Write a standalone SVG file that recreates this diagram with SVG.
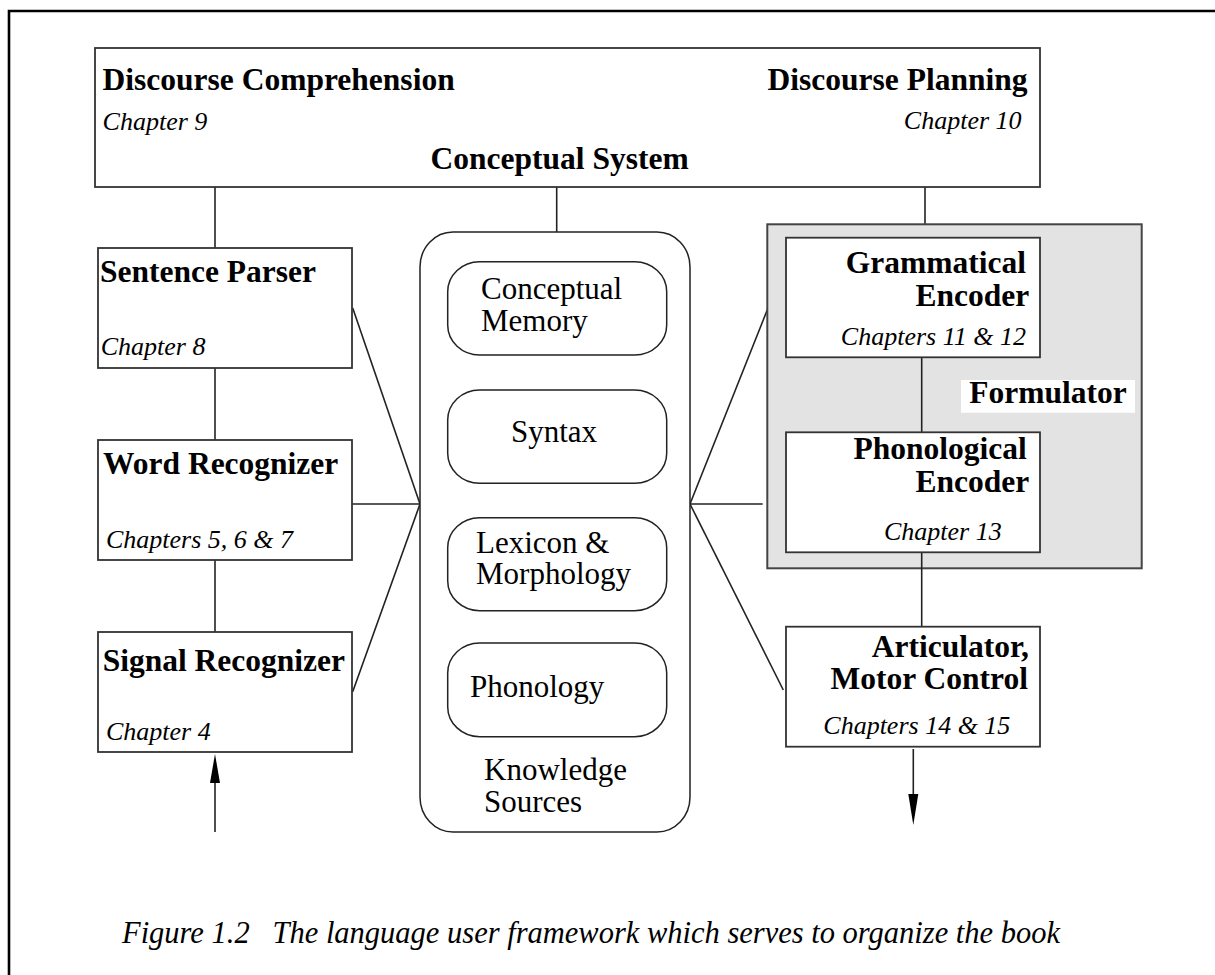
<svg xmlns="http://www.w3.org/2000/svg" width="1215" height="975" viewBox="0 0 1215 975">
<style>
.box{fill:#fff;stroke:#333;stroke-width:1.8}
.rr{fill:#fff;stroke:#222;stroke-width:1.5}
.ln{stroke:#222;stroke-width:1.6;fill:none}
.b{font-family:"Liberation Serif",serif;font-weight:bold;font-size:31.5px;fill:#000}
.i{font-family:"Liberation Serif",serif;font-style:italic;font-size:26px;fill:#000}
.r{font-family:"Liberation Serif",serif;font-size:31px;fill:#000}
.e{text-anchor:end}
</style>
<rect width="1215" height="975" fill="#fff"/>
<path d="M9,975 V11 H1215" fill="none" stroke="#000" stroke-width="2.6"/>

<g id="connectors">
<line class="ln" x1="215" y1="187" x2="215" y2="248"/>
<line class="ln" x1="556.7" y1="187" x2="556.7" y2="232"/>
<line class="ln" x1="925" y1="187" x2="925" y2="224"/>
<line class="ln" x1="215" y1="368" x2="215" y2="440"/>
<line class="ln" x1="215" y1="560" x2="215" y2="632"/>
<line class="ln" x1="352.7" y1="308" x2="420" y2="504"/>
<line class="ln" x1="350" y1="504" x2="420" y2="504"/>
<line class="ln" x1="352.7" y1="691.7" x2="420" y2="504"/>
<line class="ln" x1="690" y1="504" x2="768" y2="308"/>
<line class="ln" x1="690" y1="504" x2="762.7" y2="504"/>
<line class="ln" x1="690" y1="504" x2="783.3" y2="690"/>
<line class="ln" x1="215" y1="832" x2="215" y2="780"/>
<polygon points="215,754 210,783 220,783" fill="#000"/>
<line class="ln" x1="913.3" y1="749" x2="913.3" y2="798"/>
<polygon points="913.3,825 908.3,794 918.3,794" fill="#000"/>
</g>

<g id="conceptual-system">
<rect class="box" x="95" y="48" width="945" height="139"/>
<text class="b" x="102.6" y="90">Discourse Comprehension</text>
<text class="i" x="102.6" y="130">Chapter 9</text>
<text class="b e" x="1027.5" y="90">Discourse Planning</text>
<text class="i e" x="1021.6" y="129">Chapter 10</text>
<text class="b" x="430.5" y="169">Conceptual System</text>
</g>

<g id="sentence-parser">
<rect class="box" x="98" y="248" width="254" height="120"/>
<text class="b" x="100" y="282">Sentence Parser</text>
<text class="i" x="100.7" y="355">Chapter 8</text>
</g>

<g id="word-recognizer">
<rect class="box" x="98" y="440" width="254" height="120"/>
<text class="b" x="103" y="474">Word Recognizer</text>
<text class="i" x="106" y="548">Chapters 5, 6 &amp; 7</text>
</g>

<g id="signal-recognizer">
<rect class="box" x="98" y="632" width="254" height="120"/>
<text class="b" x="102.7" y="671">Signal Recognizer</text>
<text class="i" x="106" y="740">Chapter 4</text>
</g>

<g id="knowledge-sources">
<rect class="rr" x="420" y="232" width="270" height="600" rx="33" ry="35"/>
<text class="r" x="484" y="780">Knowledge<tspan x="484" dy="31.7">Sources</tspan></text>
</g>

<g id="conceptual-memory">
<rect class="rr" x="447.7" y="261.7" width="219" height="93.3" rx="32" ry="30"/>
<text class="r" x="481" y="299.3">Conceptual<tspan x="481" dy="31.8">Memory</tspan></text>
</g>

<g id="syntax">
<rect class="rr" x="447.7" y="390" width="219" height="93.3" rx="32" ry="30"/>
<text class="r" x="511" y="441.7">Syntax</text>
</g>

<g id="lexicon">
<rect class="rr" x="447.7" y="517.7" width="219" height="93" rx="32" ry="30"/>
<text class="r" x="476" y="552.6">Lexicon &amp;<tspan x="476" dy="31.8">Morphology</tspan></text>
</g>

<g id="phonology">
<rect class="rr" x="447.7" y="643" width="219" height="93.7" rx="32" ry="30"/>
<text class="r" x="470" y="696.7">Phonology</text>
</g>

<g id="formulator">
<rect x="767.3" y="224.3" width="374.4" height="344" fill="#e3e3e3" stroke="#444" stroke-width="2"/>
<rect x="961" y="380" width="174" height="32.7" fill="#fff"/>
<text class="b" x="969.3" y="403.3">Formulator</text>
</g>

<g id="connector-inner">
<line class="ln" x1="921.7" y1="357" x2="921.7" y2="432"/>
<line class="ln" x1="921.7" y1="552" x2="921.7" y2="627"/>
</g>

<g id="grammatical-encoder">
<rect class="box" x="786" y="237.7" width="254" height="119.6"/>
<text class="b e" x="1026" y="273.3">Grammatical<tspan x="1029.3" dy="32.4">Encoder</tspan></text>
<text class="i e" x="1026" y="345">Chapters 11 &amp; 12</text>
</g>

<g id="phonological-encoder">
<rect class="box" x="786" y="432.3" width="254" height="120"/>
<text class="b e" x="1026.7" y="459.3">Phonological<tspan x="1029.3" dy="32.4">Encoder</tspan></text>
<text class="i e" x="1001.7" y="540">Chapter 13</text>
</g>

<g id="articulator">
<rect class="box" x="786" y="626.7" width="254" height="120"/>
<text class="b e" x="1029" y="657.3">Articulator,<tspan x="1028" dy="32">Motor Control</tspan></text>
<text class="i" x="823.3" y="734.3">Chapters 14 &amp; 15</text>
</g>

<text x="122" y="943" font-family="Liberation Serif, serif" font-style="italic" font-size="30.5" xml:space="preserve">Figure 1.2   The language user framework which serves to organize the book</text>
</svg>
